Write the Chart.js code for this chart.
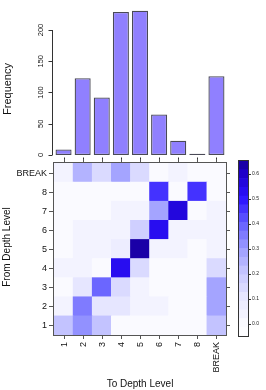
<!DOCTYPE html>
<html>
<head>
<meta charset="utf-8">
<script src="https://cdn.jsdelivr.net/npm/chart.js@4.4.1/dist/chart.umd.min.js"></script>
<style>
    html, body { margin: 0; padding: 0; background: #fff; width: 266px; height: 390px; overflow: hidden; }
    canvas { position: absolute; }
    #freq { left: 0; top: 0; }
    #heat { left: 0; top: 155px; }
    #key { left: 230px; top: 150px; }
</style>
</head>
<body>
<canvas id="freq" width="266" height="165"></canvas>
<canvas id="heat" width="266" height="235"></canvas>
<canvas id="key" width="36" height="195"></canvas>
<script>
// depth levels, shared by both axes
var levels = ['1', '2', '3', '4', '5', '6', '7', '8', 'BREAK'];
// frequency of each "to" level
var frequency = [9, 123, 92, 229, 231, 65, 23, 2, 126];
var freqTicks = [0, 50, 100, 150, 200];

// transition proportions, one array per "from" level (columns = "to" level)
var from1 = [0.21, 0.32, 0.21, 0.01, 0.01, 0.01, 0.01, 0.01, 0.21];
var from2 = [0.02, 0.37, 0.10, 0.09, 0.04, 0.03, 0.01, 0.01, 0.28];
var from3 = [0.01, 0.10, 0.39, 0.15, 0.05, 0.00, 0.00, 0.00, 0.28];
var from4 = [0.02, 0.04, 0.01, 0.54, 0.15, 0.00, 0.00, 0.00, 0.14];
var from5 = [0.00, 0.02, 0.02, 0.08, 0.62, 0.05, 0.03, 0.01, 0.05];
var from6 = [0.00, 0.02, 0.02, 0.04, 0.19, 0.53, 0.05, 0.03, 0.05];
var from7 = [0.00, 0.00, 0.00, 0.02, 0.02, 0.28, 0.56, 0.00, 0.05];
var from8 = [0.00, 0.00, 0.00, 0.00, 0.00, 0.45, 0.00, 0.45, 0.00];
var fromBreak = [0.02, 0.26, 0.15, 0.29, 0.13, 0.00, 0.02, 0.00, 0.00];
var transitions = [from1, from2, from3, from4, from5, from6, from7, from8, fromBreak];

// colour key
var keyTicks = [0, 0.1, 0.2, 0.3, 0.4, 0.5, 0.6];
var keyMin = -0.05, keyMax = 0.65, keyBands = 20;

var FONT = '"Liberation Sans", Arial, Helvetica, sans-serif';
Chart.defaults.font.family = FONT;
Chart.defaults.animation = false;
Chart.defaults.events = [];
Chart.defaults.plugins.legend.display = false;
Chart.defaults.plugins.tooltip.enabled = false;

// white -> blue -> dark blue ramp
var ramp = [
    [-0.05, 255, 255, 255],
    [0.0, 250, 250, 255],
    [0.1, 232, 232, 255],
    [0.2, 200, 200, 255],
    [0.3, 156, 156, 255],
    [0.4, 100, 94, 255],
    [0.5, 44, 18, 255],
    [0.6, 30, 0, 200],
    [0.65, 24, 0, 150]
];
function rampColor(v) {
    for (let i = 1; i < ramp.length; i++) {
        let a = ramp[i - 1], b = ramp[i];
        if (v <= b[0] || i === ramp.length - 1) {
            let t = Math.max(0, Math.min(1, (v - a[0]) / (b[0] - a[0])));
            let c = [1, 2, 3].map(k => Math.round(a[k] + (b[k] - a[k]) * t));
            return 'rgb(' + c.join(',') + ')';
        }
    }
}
var bandStep = (keyMax - keyMin) / keyBands;
function bandColor(v) {
    let i = Math.max(0, Math.min(keyBands - 1, Math.floor((v - keyMin) / bandStep)));
    return rampColor(keyMin + (i + 0.5) * bandStep);
}

function rotatedText(ctx, text, x, y, align) {
    ctx.save();
    ctx.translate(x, y);
    ctx.rotate(-Math.PI / 2);
    ctx.textAlign = align;
    ctx.textBaseline = 'middle';
    ctx.fillText(text, 0, 0);
    ctx.restore();
}

// R style axes for the frequency bars
var freqAxes = {
    id: 'freqAxes',
    afterDraw(chart) {
        let ctx = chart.ctx, x = chart.scales.x, y = chart.scales.y;
        let ax = x.left - 1.5;
        ctx.save();
        ctx.strokeStyle = '#333';
        ctx.lineWidth = 1;
        ctx.beginPath();
        ctx.moveTo(ax, y.getPixelForValue(0));
        ctx.lineTo(ax, y.getPixelForValue(200));
        freqTicks.forEach(t => {
            let py = Math.round(y.getPixelForValue(t)) + 0.5;
            ctx.moveTo(ax, py);
            ctx.lineTo(ax - 4, py);
        });
        levels.forEach((l, i) => {
            let px = Math.round(x.getPixelForValue(i)) + 0.5;
            ctx.moveTo(px, y.bottom + 2.5);
            ctx.lineTo(px, y.bottom + 5);
        });
        ctx.stroke();
        ctx.fillStyle = '#111';
        ctx.font = '7.5px ' + FONT;
        freqTicks.forEach(t => rotatedText(ctx, String(t), 41, y.getPixelForValue(t), 'center'));
        ctx.font = '11px ' + FONT;
        rotatedText(ctx, 'Frequency', 8, 89, 'center');
        ctx.restore();
    }
};

new Chart(document.getElementById('freq'), {
    type: 'bar',
    data: {
        labels: levels,
        datasets: [{
            data: frequency,
            backgroundColor: '#9080ff',
            borderColor: '#4a4a56',
            borderWidth: 1.3,
            borderSkipped: false,
            barPercentage: 0.84,
            categoryPercentage: 1
        }]
    },
    options: {
        responsive: false,
        layout: { padding: { left: 54, right: 40, top: 5, bottom: 10 } },
        scales: {
            x: { display: false },
            y: { display: false, min: 0, max: 240 }
        }
    },
    plugins: [freqAxes]
});

// box, ticks and labels of the transition matrix
var heatAxes = {
    id: 'heatAxes',
    afterDraw(chart) {
        let ctx = chart.ctx, x = chart.scales.x, y = chart.scales.y;
        let a = chart.chartArea;
        ctx.save();
        ctx.strokeStyle = '#555';
        ctx.lineWidth = 1;
        ctx.strokeRect(Math.round(a.left) - 0.5, Math.round(a.top) - 0.5,
            Math.round(a.right - a.left) + 1, Math.round(a.bottom - a.top) + 1);
        ctx.beginPath();
        levels.forEach((l, i) => {
            let px = Math.round(x.getPixelForValue(i)) + 0.5;
            ctx.moveTo(px, a.bottom + 0.5);
            ctx.lineTo(px, a.bottom + 4);
            ctx.moveTo(px, a.top - 0.5);
            ctx.lineTo(px, a.top - 4);
            let py = Math.round(y.getPixelForValue(i + 1)) + 0.5;
            ctx.moveTo(a.left - 0.5, py);
            ctx.lineTo(a.left - 5, py);
            ctx.moveTo(a.right + 0.5, py);
            ctx.lineTo(a.right + 4, py);
        });
        ctx.stroke();
        ctx.fillStyle = '#111';
        ctx.font = '9px ' + FONT;
        ctx.textAlign = 'right';
        ctx.textBaseline = 'middle';
        levels.forEach((l, i) => {
            ctx.fillText(l, a.left - 7, y.getPixelForValue(i + 1) + 0.5);
            rotatedText(ctx, l, x.getPixelForValue(i) + 0.5, a.bottom + 7, 'right');
        });
        ctx.font = '10px ' + FONT;
        rotatedText(ctx, 'From Depth Level', 7, 92, 'center');
        ctx.textAlign = 'center';
        ctx.fillText('To Depth Level', 140, 229);
        ctx.restore();
    }
};

new Chart(document.getElementById('heat'), {
    type: 'bar',
    data: {
        labels: levels,
        datasets: transitions.map((row, r) => ({
            data: row.map(() => [r + 0.5, r + 1.5]),
            backgroundColor: row.map(bandColor),
            borderWidth: 0,
            grouped: false,
            barPercentage: 1,
            categoryPercentage: 1
        }))
    },
    options: {
        responsive: false,
        layout: { padding: { left: 54, right: 40, top: 8, bottom: 55 } },
        scales: {
            x: { display: false },
            y: { display: false, min: 0.5, max: 9.5 }
        }
    },
    plugins: [heatAxes]
});

// colour key
var keyAxes = {
    id: 'keyAxes',
    afterDraw(chart) {
        let ctx = chart.ctx, y = chart.scales.y;
        let a = chart.chartArea;
        ctx.save();
        ctx.strokeStyle = '#333';
        ctx.lineWidth = 1;
        ctx.strokeRect(Math.round(a.left) - 0.5, Math.round(a.top) - 0.5,
            Math.round(a.right - a.left) + 1, Math.round(a.bottom - a.top) + 1);
        ctx.beginPath();
        keyTicks.forEach(t => {
            let py = Math.round(y.getPixelForValue(t)) + 0.5;
            ctx.moveTo(a.right + 0.5, py);
            ctx.lineTo(a.right + 3, py);
        });
        ctx.stroke();
        ctx.fillStyle = '#222';
        ctx.font = '5px ' + FONT;
        ctx.textAlign = 'left';
        ctx.textBaseline = 'middle';
        keyTicks.forEach(t => ctx.fillText(t.toFixed(1), a.right + 4, y.getPixelForValue(t)));
        ctx.restore();
    }
};

var bands = [];
for (let i = 0; i < keyBands; i++) {
    bands.push([keyMin + i * bandStep, keyMin + (i + 1) * bandStep]);
}
new Chart(document.getElementById('key'), {
    type: 'bar',
    data: {
        labels: [''],
        datasets: bands.map(b => ({
            data: [b],
            backgroundColor: rampColor((b[0] + b[1]) / 2),
            borderWidth: 0,
            grouped: false,
            barPercentage: 1,
            categoryPercentage: 1
        }))
    },
    options: {
        responsive: false,
        layout: { padding: { left: 9, right: 18, top: 11, bottom: 9 } },
        scales: {
            x: { display: false },
            y: { display: false, min: keyMin, max: keyMax }
        }
    },
    plugins: [keyAxes]
});
</script>
</body>
</html>
